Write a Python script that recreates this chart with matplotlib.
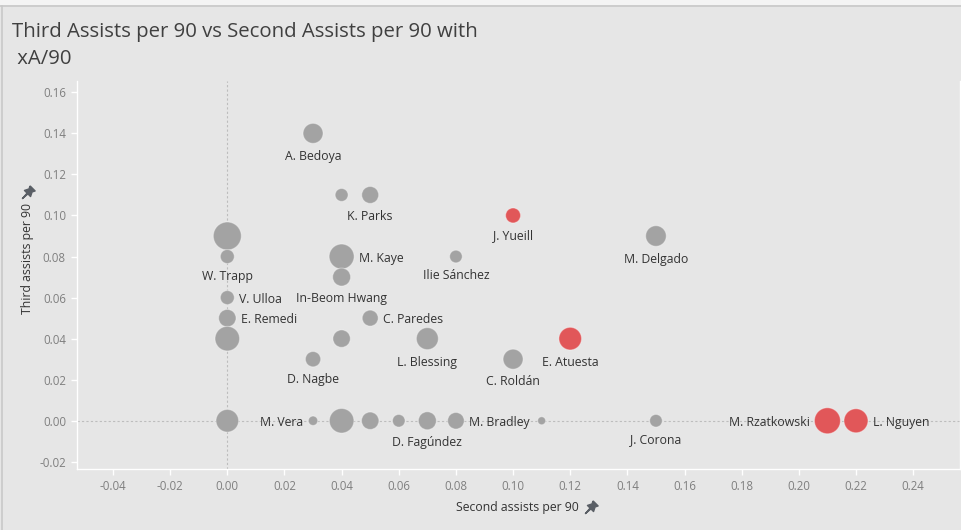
import matplotlib
matplotlib.use("Agg")
import matplotlib.pyplot as plt
from matplotlib.patches import Rectangle
import numpy as np

plt.rcParams['font.family'] = ['Open Sans', 'DejaVu Sans']

# ---------------- data ----------------
players = ["A. Bedoya", "", "K. Parks", "J. Yueill", "", "W. Trapp", "M. Kaye",
           "In-Beom Hwang", "Ilie Sánchez", "M. Delgado", "V. Ulloa", "E. Remedi",
           "C. Paredes", "", "", "L. Blessing", "C. Roldán", "E. Atuesta", "D. Nagbe",
           "", "M. Vera", "", "", "", "D. Fagúndez", "M. Bradley", "", "J. Corona",
           "M. Rzatkowski", "L. Nguyen"]
second_assists_p90 = [0.03, 0.04, 0.05, 0.10, 0.00, 0.00, 0.04,
                      0.04, 0.08, 0.15, 0.00, 0.00,
                      0.05, 0.00, 0.04, 0.07, 0.10, 0.12, 0.03,
                      0.00, 0.03, 0.04, 0.05, 0.06, 0.07, 0.08, 0.11, 0.15,
                      0.21, 0.22]
third_assists_p90 = [0.14, 0.11, 0.11, 0.10, 0.09, 0.08, 0.08,
                     0.07, 0.08, 0.09, 0.06, 0.05,
                     0.05, 0.04, 0.04, 0.04, 0.03, 0.04, 0.03,
                     0.00, 0.00, 0.00, 0.00, 0.00, 0.00, 0.00, 0.00, 0.00,
                     0.00, 0.00]
xa_p90 = [0.10, 0.042, 0.072, 0.056, 0.196, 0.049, 0.156,
          0.081, 0.040, 0.106, 0.049, 0.076,
          0.064, 0.151, 0.076, 0.121, 0.100, 0.128, 0.059,
          0.128, 0.022, 0.151, 0.076, 0.040, 0.081, 0.069, 0.016, 0.040,
          0.169, 0.144]
highlight = [False, False, False, True, False, False, False,
             False, False, False, False, False,
             False, False, False, False, False, True, False,
             False, False, False, False, False, False, False, False, False,
             True, True]
label_side = ["below", "", "below", "below", "", "below", "right",
              "below", "below", "below", "right", "right",
              "right", "", "", "below", "below", "below", "below",
              "", "left", "", "", "", "below", "right", "", "below",
              "left", "right"]
x_ticks = [-0.04, -0.02, 0.00, 0.02, 0.04, 0.06, 0.08, 0.10, 0.12, 0.14, 0.16,
           0.18, 0.20, 0.22, 0.24]
y_ticks = [-0.02, 0.00, 0.02, 0.04, 0.06, 0.08, 0.10, 0.12, 0.14, 0.16]

BG = "#e6e6e6"
GRAY = "#a3a3a3"
RED = "#e15759"

fig = plt.figure(figsize=(9.62, 5.30), dpi=100)
fig.patch.set_facecolor(BG)

# top strip and border
fig.patches.append(Rectangle((0, 1 - 5 / 530), 1, 5 / 530, transform=fig.transFigure,
                             facecolor="#f4f4f4", edgecolor="none", zorder=0))
fig.lines.append(plt.Line2D([0, 1], [1 - 5.5 / 530, 1 - 5.5 / 530], transform=fig.transFigure,
                            color="#c8c8c8", lw=1.2))
fig.lines.append(plt.Line2D([1.5 / 962, 1.5 / 962], [0, 1 - 5.5 / 530], transform=fig.transFigure,
                            color="#c8c8c8", lw=1.2))

ax = fig.add_axes([77 / 962, 1 - 469 / 530, (960 - 77) / 962, (469 - 81) / 530])
ax.set_facecolor(BG)
ax.set_xlim(-0.0526, 0.2564)
ax.set_ylim(-0.0235, 0.1655)

ax.spines["top"].set_visible(False)
for s in ["left", "bottom", "right"]:
    ax.spines[s].set_color("white")
    ax.spines[s].set_linewidth(1.0)

ax.axhline(0, color="#bdbdbd", lw=0.8, ls=(0, (2, 2)), zorder=1)
ax.axvline(0, color="#bdbdbd", lw=0.8, ls=(0, (2, 2)), zorder=1)

sizes = [v * 2074 for v in xa_p90]
colors = [RED if h else GRAY for h in highlight]
ax.scatter(second_assists_p90, third_assists_p90, s=sizes, c=colors,
           edgecolors=(1, 1, 1, 0.35), linewidths=0.8, zorder=3)

for name, x, y, s, side in zip(players, second_assists_p90, third_assists_p90, sizes, label_side):
    if not name:
        continue
    r_pt = np.sqrt(s) / 2.0
    if side == "below":
        off, ha, va = (0, -(r_pt + 4.5)), "center", "top"
    elif side == "right":
        off, ha, va = (r_pt + 3.5, -1.2), "left", "center"
    else:
        off, ha, va = (-(r_pt + 3.5), -1.2), "right", "center"
    ax.annotate(name, (x, y), xytext=off, textcoords="offset points",
                ha=ha, va=va, fontsize=8.8, color="#333333", zorder=4)

ax.set_xticks(x_ticks)
ax.set_xticklabels([f"{v:.2f}" for v in x_ticks])
ax.set_yticks(y_ticks)
ax.set_yticklabels([f"{v:.2f}" for v in y_ticks])
ax.tick_params(axis="both", colors="white", length=4, width=1, labelsize=8.3,
               labelcolor="#7f7f7f", pad=4)

# titles
fig.text(12 / 962, 1 - 32 / 530, "Third Assists per 90 vs Second Assists per 90 with",
         fontsize=14.7, color="#404040", ha="left", va="center")
fig.text(12 / 962, 1 - 59 / 530, " xA/90",
         fontsize=14.7, color="#404040", ha="left", va="center")

# axis labels
fig.text(517 / 962, 1 - 508 / 530, "Second assists per 90", fontsize=8.8,
         color="#333333", ha="center", va="center")
fig.text(27 / 962, 1 - 259 / 530, "Third assists per 90", fontsize=8.8,
         color="#333333", ha="center", va="center", rotation=90)

# pin icons
def pin(xpx, ypx, rot):
    t = matplotlib.transforms.Affine2D().rotate_deg(rot)
    verts = [(-0.5, 1.0), (0.5, 1.0), (0.3, 0.6), (0.6, 0.0), (0.08, 0.0), (0.0, -1.0),
             (-0.08, 0.0), (-0.6, 0.0), (-0.3, 0.6), (-0.5, 1.0)]
    path = matplotlib.path.Path(verts).transformed(t)
    fig.add_artist(plt.Line2D([xpx / 962], [1 - ypx / 530], transform=fig.transFigure,
                              marker=path, markersize=11, color="#5a5f66", mec="#5a5f66",
                              lw=0))

pin(590, 508, -45)
pin(27, 193, -45)

fig.savefig("out.png", dpi=100, facecolor=BG)
